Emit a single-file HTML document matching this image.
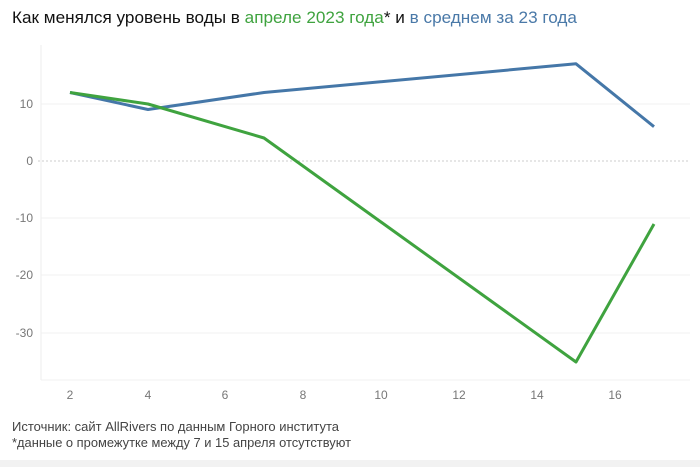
<!DOCTYPE html>
<html><head><meta charset="utf-8"><style>
body{margin:0;width:700px;height:467px;background:#fff;overflow:hidden;font-family:"Liberation Sans","DejaVu Sans",sans-serif;}
</style></head><body>
<svg width="700" height="467" xmlns="http://www.w3.org/2000/svg" style="position:absolute;left:0;top:0">
<rect x="0" y="460" width="700" height="7" fill="#f2f2f2"/>
<text x="12" y="23" font-size="17" fill="#111" textLength="565" lengthAdjust="spacingAndGlyphs">Как менялся уровень воды в <tspan fill="#3fa33f">апреле 2023 года</tspan>* и <tspan fill="#4a79a8">в среднем за 23 года</tspan></text>
<line x1="41" y1="45" x2="41" y2="380" stroke="#eee"/>
<g stroke="#f0f0f0">
<line x1="41" y1="104" x2="690" y2="104"/>
<line x1="41" y1="218" x2="690" y2="218"/>
<line x1="41" y1="275" x2="690" y2="275"/>
<line x1="41" y1="333" x2="690" y2="333"/>
<line x1="41" y1="380" x2="690" y2="380"/>
</g>
<line x1="38" y1="161" x2="690" y2="161" stroke="#ccc" stroke-dasharray="2,2"/>
<g font-size="12" fill="#777" text-anchor="end">
<text x="33" y="108">10</text><text x="33" y="165">0</text><text x="33" y="222">-10</text><text x="33" y="279">-20</text><text x="33" y="337">-30</text>
</g>
<g font-size="12" fill="#777" text-anchor="middle">
<text x="70" y="399">2</text><text x="148" y="399">4</text><text x="225" y="399">6</text><text x="303" y="399">8</text><text x="381" y="399">10</text><text x="459" y="399">12</text><text x="537" y="399">14</text><text x="615" y="399">16</text>
</g>
<polyline points="70,92.5 148,109.5 264,92.5 576,63.8 654,126.7" fill="none" stroke="#4577a8" stroke-width="3" stroke-linejoin="round"/>
<polyline points="70,92.5 148,104 264,138 576,362 654,224" fill="none" stroke="#3fa33f" stroke-width="3" stroke-linejoin="round"/>
<text x="12" y="431" font-size="12.5" fill="#444" textLength="327" lengthAdjust="spacingAndGlyphs">Источник: сайт AllRivers по данным Горного института</text>
<text x="12" y="447" font-size="12.5" fill="#444" textLength="339" lengthAdjust="spacingAndGlyphs">*данные о промежутке между 7 и 15 апреля отсутствуют</text>
</svg>
</body></html>
